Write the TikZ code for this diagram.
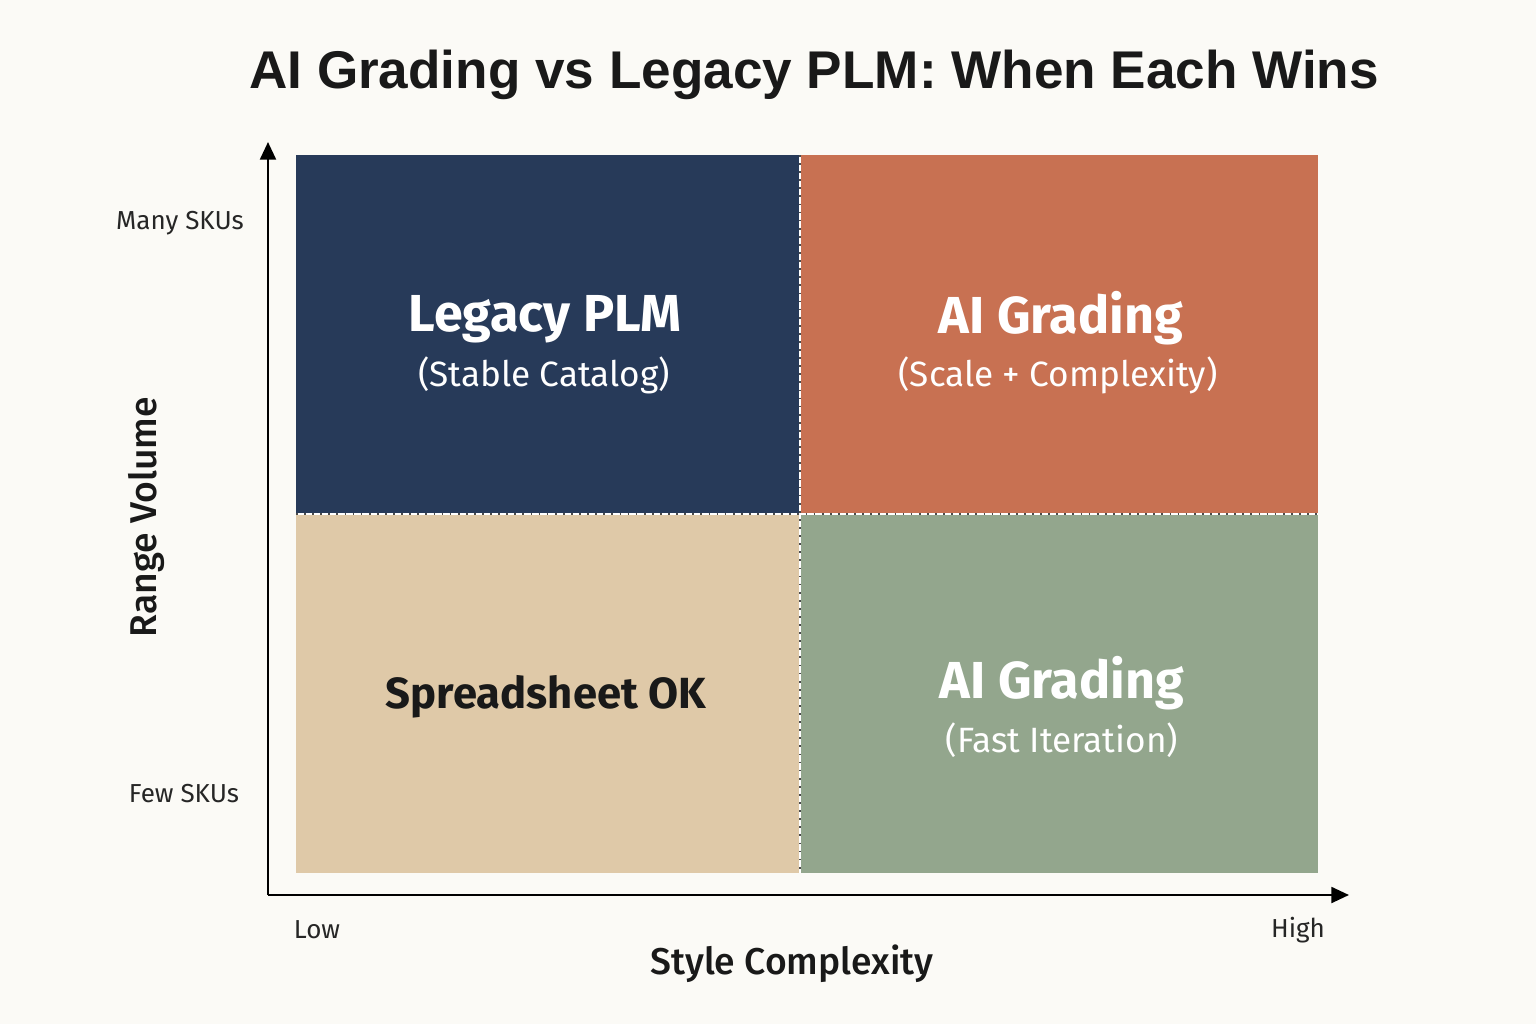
\documentclass[tikz,border=0pt]{standalone}
\usepackage{fontspec}
\setmainfont{Fira Sans}
\newfontfamily\titlefont{Liberation Sans}
\newfontfamily\mediumfont{Fira Sans Medium}
\usetikzlibrary{arrows.meta}

\tikzset{
  qtitle/.style={font=\fontsize{14.8}{17}\selectfont\bfseries, inner sep=0pt},
  qsub/.style={font=\fontsize{10}{12}\selectfont, inner sep=0pt},
  ticklabel/.style={font=\fontsize{7.4}{9}\selectfont, inner sep=0pt, text=black!85},
  axislabel/.style={font=\mediumfont\fontsize{10.6}{12}\selectfont, inner sep=0pt, text=black!90},
  divider/.style={white, line width=0.6pt},
  dots/.style={black!70, line width=0.55pt, dash pattern=on 0.5pt off 1.8pt}
}

\begin{document}
\begin{tikzpicture}[x=0.01cm,y=-0.01cm]
\definecolor{bg}{HTML}{FBFAF6}
\definecolor{navy}{HTML}{273A59}
\definecolor{rust}{HTML}{C87152}
\definecolor{tan}{HTML}{DFC9A8}
\definecolor{sage}{HTML}{93A68D}

\fill[bg] (0,0) rectangle (1536,1024);
\useasboundingbox (0,0) rectangle (1536,1024);

% title
\node[font=\titlefont\fontsize{15.1}{18}\selectfont\bfseries, inner sep=0pt, text=black!90] (title) at (814,75) {AI Grading vs Legacy PLM: When Each Wins};

% quadrants
\fill[navy] (296,155) rectangle (800,514);
\fill[rust] (800,155) rectangle (1318,514);
\fill[tan] (296,514) rectangle (800,873);
\fill[sage] (800,514) rectangle (1318,873);

\draw[divider] (800,155) -- (800,873);
\draw[divider] (296,514) -- (1318,514);
\draw[dots] (800,155) -- (800,873);
\draw[dots] (296,514) -- (1318,514);

\node[qtitle, text=white] (plm) at (545,319) {Legacy PLM};
\node[qsub, text=white] (plmsub) at (544,375) {(Stable Catalog)};
\node[qtitle, text=white] (aitop) at (1061,318) {AI Grading};
\node[qsub, text=white] (aitopsub) at (1058,375) {(Scale + Complexity)};
\node[qtitle, font=\fontsize{12.4}{14}\selectfont\bfseries, text=black!90] (sheet) at (546,697) {Spreadsheet OK};
\node[qtitle, text=white] (aibot) at (1062,683) {AI Grading};
\node[qsub, text=white] (aibotsub) at (1062,740) {(Fast Iteration)};

% axes
\coordinate (origin) at (268,895);
\coordinate (ytop) at (268,142);
\coordinate (xend) at (1349,895);
\draw[line width=0.7pt, -{Triangle[length=5pt,width=4.5pt]}] (origin) -- (ytop);
\draw[line width=0.7pt, -{Triangle[length=5pt,width=4.5pt]}] (origin) -- (xend);

\node[ticklabel] (many) at (180,223) {Many SKUs};
\node[ticklabel] (few) at (184,794) {Few SKUs};
\node[ticklabel] (low) at (317,930) {Low};
\node[ticklabel] (high) at (1298,930) {High};

\node[axislabel] (xlab) at (792,964) {Style Complexity};
\node[axislabel, rotate=90] (ylab) at (146,517) {Range Volume};
\end{tikzpicture}
\end{document}
